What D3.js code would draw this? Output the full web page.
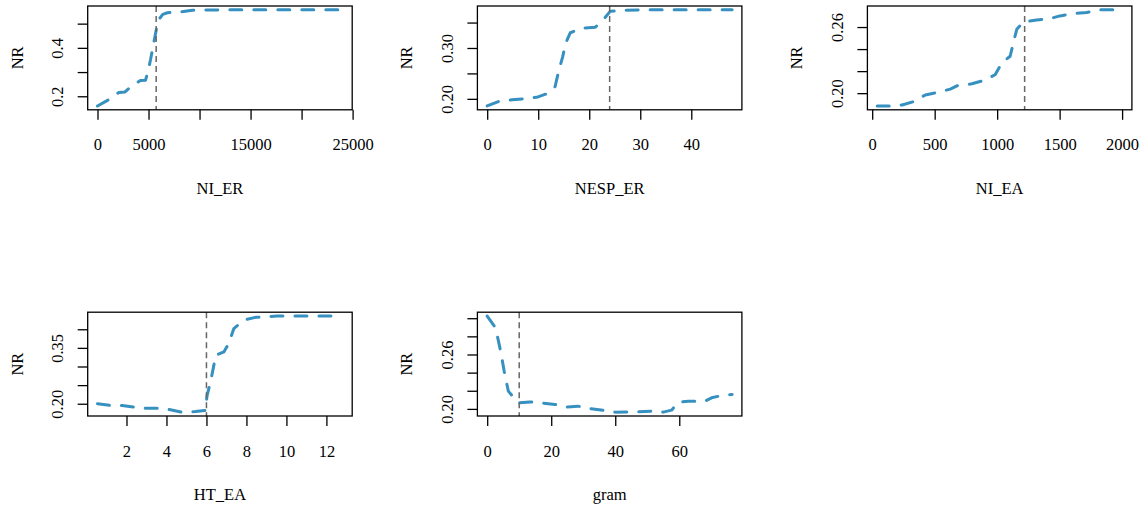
<!DOCTYPE html>
<html><head><meta charset="utf-8">
<script src="https://cdn.jsdelivr.net/npm/d3@7"></script>
<style>
body{margin:0;background:#fff} svg{display:block}
svg text{font-family:"Liberation Serif","Times New Roman",serif !important;}
</style>
</head><body><svg id="c" width="1146" height="506"></svg>
<script>
// ---- data ----
const niErX  = [0, 1100, 2100, 2700, 3200, 4200, 4700, 4950, 5200, 5450, 5700, 5950, 6400, 6850, 8000, 9300, 12000, 16000, 20000, 24000];
const niErNR = [0.160, 0.186, 0.216, 0.218, 0.237, 0.265, 0.266, 0.303, 0.352, 0.407, 0.462, 0.514, 0.538, 0.545, 0.548, 0.555, 0.557, 0.557, 0.557, 0.557];

const nespErX  = [0, 2.2, 4.8, 7.1, 9.7, 11.7, 13.3, 14, 14.8, 15.4, 16.3, 18.6, 21.2, 22.8, 24.1, 27, 32, 40, 48];
const nespErNR = [0.186, 0.1947, 0.198, 0.200, 0.203, 0.210, 0.224, 0.254, 0.283, 0.310, 0.330, 0.339, 0.341, 0.356, 0.372, 0.374, 0.375, 0.375, 0.375];

const niEaX  = [40, 146, 239, 332, 425, 519, 625, 678, 798, 891, 984, 1037, 1104, 1130, 1157, 1210, 1317, 1423, 1503, 1609, 1716, 1822, 2000];
const niEaNR = [0.1884, 0.1884, 0.1893, 0.1923, 0.1984, 0.2006, 0.2037, 0.2067, 0.2085, 0.2115, 0.2167, 0.2274, 0.2335, 0.2457, 0.2579, 0.2646, 0.2664, 0.2677, 0.2701, 0.2723, 0.2732, 0.2756, 0.2756];

const htEaX  = [0.55, 1.2, 1.78, 2.37, 2.95, 3.62, 4.2, 4.78, 5.45, 5.95, 6.03, 6.2, 6.37, 6.45, 6.87, 7.12, 7.37, 7.87, 8.45, 9.53, 11, 12.8];
const htEaNR = [0.200, 0.1955, 0.1955, 0.191, 0.188, 0.188, 0.1838, 0.1774, 0.179, 0.182, 0.222, 0.258, 0.303, 0.330, 0.339, 0.362, 0.402, 0.425, 0.432, 0.4355, 0.4355, 0.4355];

const gramX  = [0, 2.6, 3.4, 4.3, 5.3, 6.6, 9.7, 13.3, 17, 21.2, 24.8, 28.4, 32.1, 36.8, 39.9, 43.6, 47.2, 51.4, 55, 57.6, 59.7, 62.8, 68, 70.1, 73.3, 76.5];
const gramNR = [0.3024, 0.2895, 0.2767, 0.2619, 0.2417, 0.2196, 0.2066, 0.2077, 0.2066, 0.2049, 0.2019, 0.203, 0.2004, 0.1982, 0.1964, 0.1967, 0.1967, 0.1975, 0.1964, 0.1986, 0.2074, 0.2085, 0.2085, 0.2122, 0.2148, 0.2159];

const varNames   = ["NI_ER", "NESP_ER", "NI_EA", "HT_EA", "gram"];
const cutoffs    = [5750, 24, 1220, 6, 10];

const xTicks = [[0,5000,10000,15000,20000,25000],[0,10,20,30,40],[0,500,1000,1500,2000],[2,4,6,8,10,12],[0,20,40,60]];
const xTickLabels = [["0","5000","","15000","","25000"],["0","10","20","30","40"],["0","500","1000","1500","2000"],["2","4","6","8","10","12"],["0","20","40","60"]];
const yTicks = [[0.2,0.3,0.4,0.5],[0.20,0.25,0.30,0.35],[0.20,0.22,0.24,0.26],[0.20,0.25,0.30,0.35,0.40],[0.20,0.22,0.24,0.26,0.28,0.30]];
const yTickLabels = [["0.2","","0.4",""],["0.20","","0.30",""],["0.20","","","0.26"],["0.20","","","0.35",""],["0.20","","","0.26","",""]];

const panels = [
  {x: niErX, y: niErNR}, {x: nespErX, y: nespErNR}, {x: niEaX, y: niEaNR},
  {x: htEaX, y: htEaNR}, {x: gramX, y: gramNR}
].map((p, i) => Object.assign(p, {name: varNames[i], v: cutoffs[i], xt: xTicks[i], xl: xTickLabels[i], yt: yTicks[i], yl: yTickLabels[i]}));

// ---- layout ----
const lefts = [87.7, 477.4, 867.4], tops = [6, 312.2], bw = 264.5, bh = 103.8;
const FONT = "Liberation Serif", FS = 16.5;
const svg = d3.select("#c");
const pad = e => { const r = e[1] - e[0]; return [e[0] - 0.04 * r, e[1] + 0.04 * r]; };

panels.forEach((p, i) => {
  const col = i % 3, row = Math.floor(i / 3);
  const g = svg.append("g").attr("transform", `translate(${lefts[col]},${tops[row]})`);
  const x = d3.scaleLinear().domain(pad(d3.extent(p.x))).range([0, bw]);
  const y = d3.scaleLinear().domain(pad(d3.extent(p.y))).range([bh, 0]);
  const pts = p.x.map((v, j) => [v, p.y[j]]);

  g.append("path")
    .attr("d", d3.line().x(d => x(d[0])).y(d => y(d[1]))(pts))
    .attr("fill", "none").attr("stroke", "#3690c0").attr("stroke-width", 3)
    .attr("stroke-dasharray", "12,12").attr("stroke-linecap", "round").attr("stroke-linejoin", "round");

  g.append("line").attr("x1", x(p.v)).attr("x2", x(p.v)).attr("y1", 0).attr("y2", bh)
    .attr("stroke", "#666").attr("stroke-width", 1.5).attr("stroke-dasharray", "6,4");

  g.append("rect").attr("width", bw).attr("height", bh)
    .attr("fill", "none").attr("stroke", "#000").attr("stroke-width", 1.3);

  // x axis
  const gx = g.append("g").attr("transform", `translate(0,${bh})`)
    .call(d3.axisBottom(x).tickValues(p.xt).tickFormat(d => p.xl[p.xt.indexOf(d)]).tickSize(10).tickSizeOuter(0));
  gx.attr("font-family", FONT).attr("font-size", FS);
  gx.select(".domain").remove();
  gx.selectAll(".tick line").attr("stroke", "#000").attr("stroke-width", 1.3);
  gx.selectAll(".tick text").attr("y", 40.5).attr("dy", null).attr("fill", "#000");

  // y axis
  const gy = g.append("g")
    .call(d3.axisLeft(y).tickValues(p.yt).tickFormat(d => p.yl[p.yt.indexOf(d)]).tickSize(10).tickSizeOuter(0));
  gy.attr("font-family", FONT).attr("font-size", FS);
  gy.select(".domain").remove();
  gy.selectAll(".tick line").attr("stroke", "#000").attr("stroke-width", 1.3);
  gy.selectAll(".tick text").attr("x", 0).attr("dy", null)
    .attr("transform", "translate(-24.5,0) rotate(-90)").attr("text-anchor", "middle").attr("fill", "#000");

  // titles
  g.append("text").attr("x", bw / 2).attr("y", bh + 84).attr("text-anchor", "middle")
    .attr("font-family", FONT).attr("font-size", FS).attr("fill", "#000").text(p.name);
  g.append("text").attr("transform", `translate(-65,${bh / 2}) rotate(-90)`).attr("text-anchor", "middle")
    .attr("font-family", FONT).attr("font-size", FS).attr("fill", "#000").text("NR");
});
</script>
</body></html>
